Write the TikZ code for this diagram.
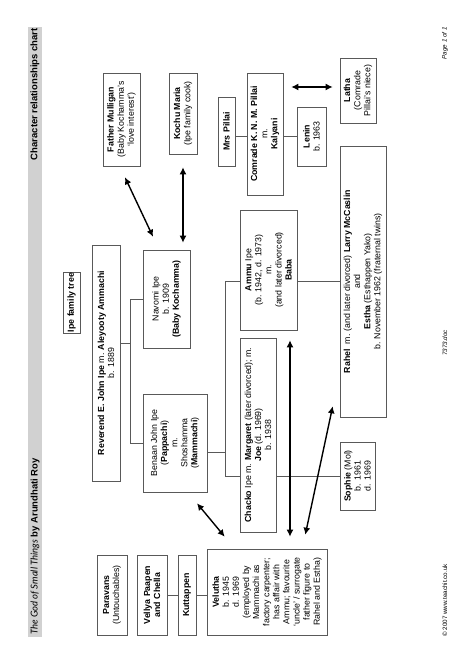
\documentclass[tikz,border=0pt]{standalone}
\usepackage{fontspec}
\setmainfont{Liberation Sans}
\newfontfamily\titlefont{Lato}
\usetikzlibrary{arrows.meta,calc}
\begin{document}
\begin{tikzpicture}[x=1pt,y=1pt,rotate=90,transform shape,
  box/.style={draw=black!65, line width=0.6pt, align=center, inner sep=1pt, font=\fontsize{8.8}{10.1}\selectfont},
  link/.style={draw=black!65, line width=0.6pt},
  dbl/.style={line width=1.4pt, {Latex[length=7pt,width=7pt]}-{Latex[length=7pt,width=7pt]}},
  foot/.style={font=\fontsize{6.3}{7}\selectfont, inner sep=0pt}]
\useasboundingbox (0,0) rectangle (670,474);
% header
\fill[black!18] (33,432) rectangle (643,446);
\node[anchor=west, inner sep=0pt, font=\fontsize{9.5}{11}\selectfont] (title) at (35,439)
  {{\titlefont\itshape The God of Small Things} \textbf{by Arundhati Roy}};
\node[anchor=east, inner sep=0pt, font=\fontsize{9.5}{11}\selectfont] (chart) at (642,439)
  {\textbf{Character relationships chart}};
% footer
\node[foot, anchor=west] (copy) at (33,29) {© 2007 www.teachit.co.uk};
\node[foot] (doc) at (327,29) {\itshape 7373.doc};
\node[foot, anchor=east] (page) at (643,29) {\itshape Page 1 of 1};
% boxes
\node[box, minimum width=55pt, minimum height=17pt] (ipe) at (367.5,402.5) {\textbf{Ipe family tree}};
\node[box, minimum width=236pt, minimum height=28pt] (reverend) at (307,368)
  {\textbf{Reverend E. John Ipe} m. \textbf{Aleyooty Ammachi}\\b. 1889};
\node[box, minimum width=98pt, minimum height=47pt] (navomi) at (371,307.5)
  {Navomi Ipe\\b. 1909\\\textbf{(Baby Kochamma)}};
\node[box, minimum width=98pt, minimum height=64pt] (benaan) at (227,299)
  {Benaan John Ipe\\(\textbf{Pappachi})\\m.\\Shoshamma\\(\textbf{Mammachi})};
\node[box, minimum width=194pt, minimum height=36pt] (chacko) at (235,216)
  {\textbf{Chacko} Ipe m. \textbf{Margaret} (later divorced); m.\\\textbf{Joe} (d. 1969)\\b. 1938};
\node[box, minimum width=120pt, minimum height=57pt] (ammu) at (400,205.5)
  {\textbf{Ammu} Ipe\\(b. 1942, d. 1973)\\m.\\(and later divorced)\\\textbf{Baba}};
\node[box, minimum width=68pt, minimum height=35pt] (sophie) at (194,116.5)
  {\textbf{Sophie} (Mol)\\b. 1961\\d. 1969};
\node[box, minimum width=271pt, minimum height=46pt] (rahel) at (388.5,111)
  {\textbf{Rahel}\ \ m. (and later divorced) \textbf{Larry McCaslin}\\and\\\textbf{Estha} (Esthappen Yako)\\b. November 1962 (fraternal twins)};
\node[box, minimum width=93pt, minimum height=37pt] (father) at (550.5,352.5)
  {\textbf{Father Mulligan}\\(Baby Kochamma's\\`love interest')};
\node[box, minimum width=81pt, minimum height=28pt] (kochu) at (556.5,291)
  {\textbf{Kochu Maria}\\(Ipe family cook)};
\node[box, minimum width=69pt, minimum height=17pt] (mrspillai) at (538.5,247.5)
  {\textbf{Mrs Pillai}};
\node[box, minimum width=122pt, minimum height=36pt] (comrade) at (536,209)
  {\textbf{Comrade K. N. M. Pillai}\\m.\\\textbf{Kalyani}};
\node[box, minimum width=59pt, minimum height=29pt] (lenin) at (533.5,162.5)
  {\textbf{Lenin}\\b. 1963};
\node[box, minimum width=65pt, minimum height=36pt] (latha) at (579.5,116)
  {\textbf{Latha}\\(Comrade\\Pillai's niece)};
\node[box, minimum width=80pt, minimum height=30pt] (paravans) at (75,362)
  {\textbf{Paravans}\\(Untouchables)};
\node[box, minimum width=80pt, minimum height=30pt] (vellya) at (75,322)
  {\textbf{Vellya Paapen}\\\textbf{and Chella}};
\node[box, minimum width=80pt, minimum height=18pt] (kuttappen) at (75,287)
  {\textbf{Kuttappen}};
\node[box, minimum width=86pt, minimum height=120pt] (velutha) at (78,207)
  {\textbf{Velutha}\\b. 1945\\d. 1969\\(employed by\\Mammachi as\\factory carpenter;\\has affair with\\Ammu; favourite\\`uncle' / surrogate\\father figure to\\Rahel and Estha)};
% family links
\draw[link] ($(reverend.south)+(20,0)$) -- ++(0,-11);
\draw[link] (benaan.north) -- ++(0,12) -| (navomi.north);
\draw[link] ($(benaan.south)+(-9,0)$) -- ++(0,-19);
\draw[link] (sophie.north |- chacko.north) -- ++(0,14) -| (rahel.north |- ammu.north);
\draw[link] (sophie.north) -- (sophie.north |- chacko.south);
\draw[link] (rahel.north) -- (rahel.north |- ammu.south);
\draw[link] (lenin.north |- mrspillai.south) -- (lenin.north |- comrade.north);
\draw[link] (lenin.north |- comrade.south) -- (lenin.north);
\draw[link] (vellya.south) -- (kuttappen.north);
\draw[link] (kuttappen.south) -- (kuttappen.south |- velutha.north);
% relationship arrows
\draw[dbl] ($(father.west)+(-11,-3.5)$) -- ($(navomi.east)+(13,13.5)$);
\draw[dbl] ($(kochu.west)+(-13,0)$) -- ($(navomi.east |- kochu.west)+(7,0)$);
\draw[dbl] ($(latha.north)+(3.5,7)$) -- ($(latha.north |- comrade.south)+(3.5,-8)$);
\draw[dbl] ($(benaan.west)+(-11,-22)$) -- ($(velutha.north east)+(12,-18)$);
\draw[dbl] ($(ammu.west)+(-10,-21.5)$) -- ($(velutha.east |- ammu.west)+(12,-21.5)$);
\draw[dbl] ($(rahel.north west)+(11,7)$) -- ($(velutha.south east)+(14,22)$);
\end{tikzpicture}
\end{document}
